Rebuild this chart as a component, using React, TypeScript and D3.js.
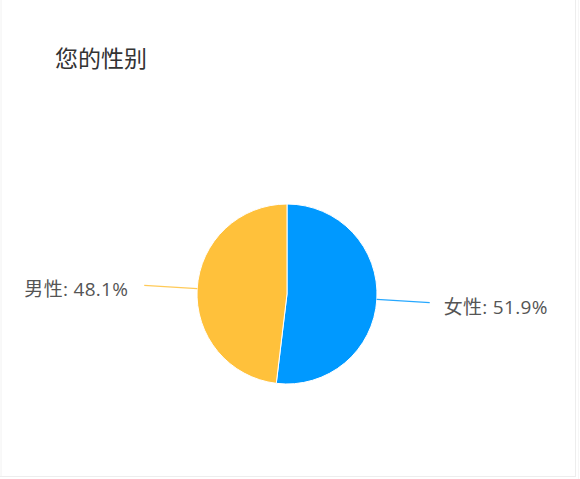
import React from "react";
import * as d3 from "d3";

const categories: string[] = ["女性", "男性"];
const values: number[] = [51.9, 48.1];
const colors: string[] = ["#0099ff", "#ffc13b"];
const title = "您的性别";

const W = 580;
const H = 479;
const cx = 287;
const cy = 294;
const R = 90;
const R2 = 143;
const FONT = "'Open Sans', 'Noto Sans CJK SC', sans-serif";

export default function App() {
  const pie = d3
    .pie<number>()
    .sort(null)
    .value((d) => d)
    .startAngle(0)
    .endAngle(2 * Math.PI);
  const arcs = pie(values);
  const arc = d3.arc<d3.PieArcDatum<number>>().innerRadius(0).outerRadius(R);

  return (
    <div style={{ position: "absolute", left: 0, top: 0 }}>
      <svg width={W} height={H} style={{ display: "block", background: "#fff" }}>
        <line x1={1} y1={0} x2={1} y2={476} stroke="#f2f2f2" />
        <line x1={0} y1={476.5} x2={576} y2={476.5} stroke="#ededed" />
        <line x1={575.5} y1={0} x2={575.5} y2={477} stroke="#ededed" />
        <line x1={578.5} y1={0} x2={578.5} y2={479} stroke="#f6f6f6" />
        <text x={55} y={67} fontSize={23} fill="#333" fontFamily={FONT}>
          {title}
        </text>
        <g transform={`translate(${cx},${cy})`}>
          {arcs.map((a, i) => (
            <path key={i} d={arc(a) || ""} fill={colors[i]} stroke="#fff" strokeWidth={1} />
          ))}
          {arcs.map((a, i) => {
            const mid = (a.startAngle + a.endAngle) / 2;
            const sx = Math.sin(mid) * R;
            const sy = -Math.cos(mid) * R;
            const ex = Math.sin(mid) * R2;
            const ey = -Math.cos(mid) * R2;
            const right = Math.sin(mid) > 0;
            return (
              <g key={"l" + i}>
                <polyline
                  points={`${sx},${sy} ${ex},${ey}`}
                  fill="none"
                  stroke={colors[i]}
                  strokeWidth={1.2}
                  opacity={0.85}
                />
                <text
                  x={ex + (right ? 14 : -16)}
                  y={ey + 11}
                  textAnchor={right ? "start" : "end"}
                  fontSize={19}
                  letterSpacing={0.3}
                  fill="#555"
                  fontFamily={FONT}
                >
                  {`${categories[i]}: ${values[i]}%`}
                </text>
              </g>
            );
          })}
        </g>
      </svg>
    </div>
  );
}
